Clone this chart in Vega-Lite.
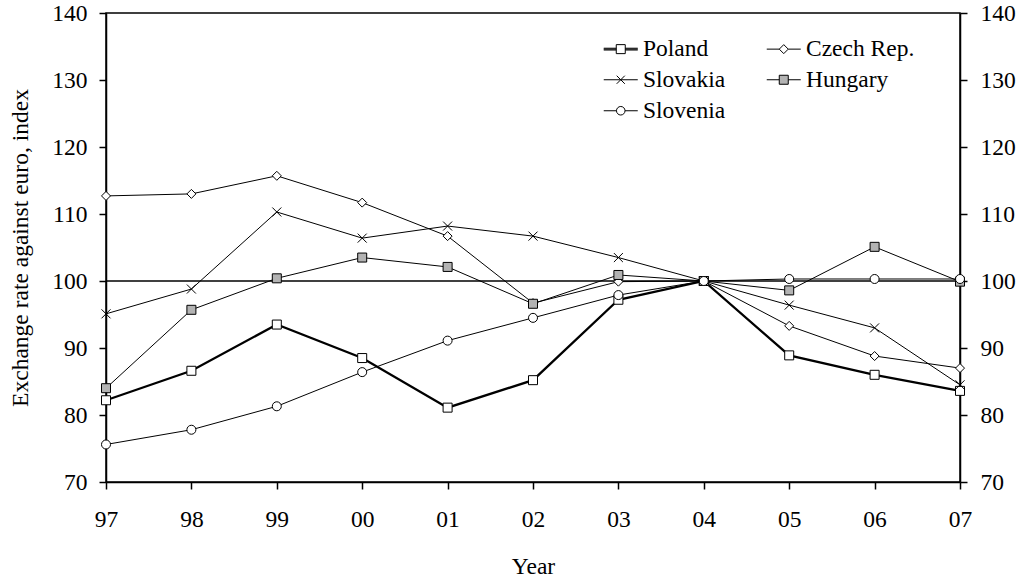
{
  "$schema": "https://vega.github.io/schema/vega-lite/v6.json",
  "width": 854,
  "height": 469,
  "autosize": "none",
  "padding": {"left": 106, "top": 13, "right": 57, "bottom": 96},
  "config": {
    "font": "Liberation Serif",
    "view": {"stroke": "black", "strokeWidth": 1.5},
    "axis": {
      "labelFont": "Liberation Serif",
      "titleFont": "Liberation Serif",
      "labelFontSize": 23.5,
      "titleFontSize": 23.5,
      "titleFontWeight": "normal",
      "labelColor": "black",
      "titleColor": "black",
      "domainColor": "black",
      "tickColor": "black",
      "domainWidth": 1.5,
      "tickWidth": 1.5,
      "tickSize": 7,
      "grid": false
    },
    "legend": {
      "title": null,
      "orient": "none",
      "direction": "horizontal",
      "legendX": 503,
      "legendY": 24,
      "columns": 2,
      "columnPadding": 38,
      "rowPadding": 6,
      "padding": 0,
      "symbolSize": 81,
      "symbolStrokeWidth": 1,
      "symbolOpacity": 1,
      "labelFont": "Liberation Serif",
      "labelFontSize": 23.5,
      "labelColor": "black",
      "labelOffset": 10.5
    }
  },
  "data": {
    "values": [
      {"year": "97", "country": "Poland", "value": 82.2},
      {"year": "98", "country": "Poland", "value": 86.6},
      {"year": "99", "country": "Poland", "value": 93.5},
      {"year": "00", "country": "Poland", "value": 88.5},
      {"year": "01", "country": "Poland", "value": 81.1},
      {"year": "02", "country": "Poland", "value": 85.2},
      {"year": "03", "country": "Poland", "value": 97.2},
      {"year": "04", "country": "Poland", "value": 100},
      {"year": "05", "country": "Poland", "value": 88.9},
      {"year": "06", "country": "Poland", "value": 86.0},
      {"year": "07", "country": "Poland", "value": 83.6},
      {"year": "97", "country": "Czech Rep.", "value": 112.7},
      {"year": "98", "country": "Czech Rep.", "value": 113.0},
      {"year": "99", "country": "Czech Rep.", "value": 115.7},
      {"year": "00", "country": "Czech Rep.", "value": 111.7},
      {"year": "01", "country": "Czech Rep.", "value": 106.7},
      {"year": "02", "country": "Czech Rep.", "value": 96.7},
      {"year": "03", "country": "Czech Rep.", "value": 99.9},
      {"year": "04", "country": "Czech Rep.", "value": 100},
      {"year": "05", "country": "Czech Rep.", "value": 93.3},
      {"year": "06", "country": "Czech Rep.", "value": 88.8},
      {"year": "07", "country": "Czech Rep.", "value": 87.0},
      {"year": "97", "country": "Slovakia", "value": 95.1},
      {"year": "98", "country": "Slovakia", "value": 98.8},
      {"year": "99", "country": "Slovakia", "value": 110.3},
      {"year": "00", "country": "Slovakia", "value": 106.4},
      {"year": "01", "country": "Slovakia", "value": 108.2},
      {"year": "02", "country": "Slovakia", "value": 106.7},
      {"year": "03", "country": "Slovakia", "value": 103.5},
      {"year": "04", "country": "Slovakia", "value": 100},
      {"year": "05", "country": "Slovakia", "value": 96.4},
      {"year": "06", "country": "Slovakia", "value": 93.0},
      {"year": "07", "country": "Slovakia", "value": 84.5},
      {"year": "97", "country": "Hungary", "value": 84.0},
      {"year": "98", "country": "Hungary", "value": 95.7},
      {"year": "99", "country": "Hungary", "value": 100.4},
      {"year": "00", "country": "Hungary", "value": 103.5},
      {"year": "01", "country": "Hungary", "value": 102.1},
      {"year": "02", "country": "Hungary", "value": 96.6},
      {"year": "03", "country": "Hungary", "value": 100.9},
      {"year": "04", "country": "Hungary", "value": 100},
      {"year": "05", "country": "Hungary", "value": 98.6},
      {"year": "06", "country": "Hungary", "value": 105.1},
      {"year": "07", "country": "Hungary", "value": 99.9},
      {"year": "97", "country": "Slovenia", "value": 75.6},
      {"year": "98", "country": "Slovenia", "value": 77.8},
      {"year": "99", "country": "Slovenia", "value": 81.3},
      {"year": "00", "country": "Slovenia", "value": 86.4},
      {"year": "01", "country": "Slovenia", "value": 91.1},
      {"year": "02", "country": "Slovenia", "value": 94.5},
      {"year": "03", "country": "Slovenia", "value": 97.9},
      {"year": "04", "country": "Slovenia", "value": 100},
      {"year": "05", "country": "Slovenia", "value": 100.3},
      {"year": "06", "country": "Slovenia", "value": 100.3},
      {"year": "07", "country": "Slovenia", "value": 100.3}
    ]
  },
  "layer": [
    {
      "data": {"values": [{"ref": 100}]},
      "mark": {"type": "rule", "color": "black", "strokeWidth": 1.3},
      "encoding": {
        "y": {
          "field": "ref",
          "type": "quantitative",
          "scale": {"domain": [70, 140]},
          "axis": {"orient": "right", "title": null, "values": [70, 80, 90, 100, 110, 120, 130, 140], "labelPadding": 13}
        }
      }
    },
    {
      "mark": {"type": "line", "color": "black"},
      "encoding": {
        "x": {
          "field": "year",
          "type": "ordinal",
          "scale": {"type": "point", "padding": 0, "domain": ["97", "98", "99", "00", "01", "02", "03", "04", "05", "06", "07"]},
          "axis": {"title": "Year", "labelAngle": 0, "labelPadding": 18, "titlePadding": 24}
        },
        "y": {
          "field": "value",
          "type": "quantitative",
          "scale": {"domain": [70, 140]},
          "axis": {"title": "Exchange rate against euro, index", "values": [70, 80, 90, 100, 110, 120, 130, 140], "labelPadding": 12, "titlePadding": 19}
        },
        "detail": {"field": "country"},
        "strokeWidth": {"condition": {"test": "datum.country === 'Poland'", "value": 2.3}, "value": 1}
      }
    },
    {
      "mark": {"type": "point", "strokeWidth": 1, "size": 81, "opacity": 0},
      "encoding": {
        "x": {"field": "year", "type": "ordinal"},
        "y": {"field": "value", "type": "quantitative", "axis": null},
        "shape": {
          "field": "country",
          "type": "nominal",
          "scale": {
            "domain": ["Poland", "Czech Rep.", "Slovakia", "Hungary", "Slovenia"],
            "range": [
              "M-3.78,-0.2H-1M-3.78,0H-1M-3.78,0.2H-1M1,-0.2H3.78M1,0H3.78M1,0.2H3.78M-1,-1H1V1H-1Z",
              "M-3.78,0H-1M1,0H3.78M0,-1L1,0L0,1L-1,0Z",
              "M-3.78,0H3.78M-0.9,-0.9L0.9,0.9M-0.9,0.9L0.9,-0.9",
              "M-3.78,0H-1M1,0H3.78M-1,-1H1V1H-1Z",
              "M-3.78,0H-0.95M0.95,0H3.78M0.95,0A0.95,0.95,0,1,1,-0.95,0A0.95,0.95,0,1,1,0.95,0Z"
            ]
          }
        },
        "fill": {
          "field": "country",
          "type": "nominal",
          "scale": {
            "domain": ["Poland", "Czech Rep.", "Slovakia", "Hungary", "Slovenia"],
            "range": ["white", "white", "white", "#b3b3b3", "white"]
          }
        },
        "stroke": {
          "field": "country",
          "type": "nominal",
          "scale": {
            "domain": ["Poland", "Czech Rep.", "Slovakia", "Hungary", "Slovenia"],
            "range": ["black", "black", "black", "black", "black"]
          }
        }
      }
    },
    {
      "mark": {"type": "point", "strokeWidth": 1, "size": 81, "opacity": 1},
      "encoding": {
        "x": {"field": "year", "type": "ordinal"},
        "y": {"field": "value", "type": "quantitative", "axis": null},
        "shape": {
          "condition": [
            {"test": "datum.country === 'Poland'", "value": "square"},
            {"test": "datum.country === 'Czech Rep.'", "value": "diamond"},
            {"test": "datum.country === 'Slovakia'", "value": "M-1,-1L1,1M-1,1L1,-1"},
            {"test": "datum.country === 'Hungary'", "value": "square"}
          ],
          "value": "circle"
        },
        "fill": {"field": "country", "type": "nominal"},
        "stroke": {"field": "country", "type": "nominal"}
      }
    }
  ],
  "resolve": {"axis": {"y": "independent"}}
}
